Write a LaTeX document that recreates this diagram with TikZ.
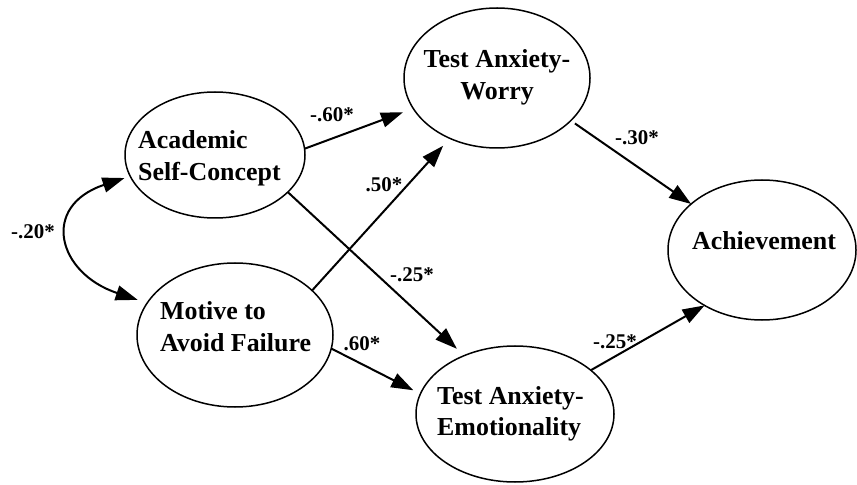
\documentclass[tikz,border=0pt]{standalone}
\usepackage{fontspec}
\setmainfont{Liberation Serif}
\usetikzlibrary{shapes.geometric,arrows.meta}
\tikzset{
  ell/.style={draw, ellipse, line width=1.5bp, inner sep=0pt, outer sep=0pt},
  txt/.style={font=\bfseries\fontsize{26}{32}\selectfont, inner sep=0pt},
  coef/.style={font=\bfseries\fontsize{21}{25}\selectfont, inner sep=0pt},
  arr/.style={line width=2bp, -{Triangle[length=22bp,width=15bp]}},
  darr/.style={line width=2bp, {Triangle[length=22bp,width=15bp]}-{Triangle[length=22bp,width=15bp]}}
}
\begin{document}
\begin{tikzpicture}[x=1bp,y=-1bp]
\useasboundingbox (0,0) rectangle (857,485);
% ellipses
\node[ell, minimum width=180bp, minimum height=126bp] (acad) at (215,155) {};
\node[ell, minimum width=196bp, minimum height=144bp] (motive) at (235,335) {};
\node[ell, minimum width=186bp, minimum height=140bp] (worry) at (497,78) {};
\node[ell, minimum width=198bp, minimum height=136bp] (emot) at (515,414) {};
\node[ell, minimum width=188bp, minimum height=140bp] (achieve) at (762,250) {};
% texts
\node[txt, anchor=base west] (tacad) at (138,149) {\begin{tabular}[t]{@{}l@{}}Academic\\Self-Concept\end{tabular}};
\node[txt, anchor=base west] (tmotive) at (160,320) {\begin{tabular}[t]{@{}l@{}}Motive to\\Avoid Failure\end{tabular}};
\node[txt, anchor=base] (tworry) at (497,68) {\begin{tabular}[t]{@{}c@{}}Test Anxiety-\\Worry\end{tabular}};
\node[txt, anchor=base west] (temot) at (437,404) {\begin{tabular}[t]{@{}l@{}}Test Anxiety-\\Emotionality\end{tabular}};
\node[txt, anchor=base] (tachieve) at (764,250) {Achievement};
% paths
\draw[arr, shorten >=11bp] (acad.4) -- (worry.200);
\draw[arr, shorten >=10bp] (motive.30) -- (worry.232);
\draw[arr, shorten >=10bp] (acad.333) -- (emot.131);
\draw[arr, shorten >=8bp] (motive.352) -- (emot.168);
\draw[arr, shorten <=5bp] (worry.330) -- (achieve.147);
\draw[arr] (emot.30) -- (achieve.224);
\draw[darr, shorten <=6bp, shorten >=10bp] (acad.194) .. controls +(-90,30) and +(-90,-30) .. (motive.160);
% coefficients
\node[coef] (c1) at (332,115) {-.60*};
\node[coef] (c2) at (384,185) {.50*};
\node[coef] (c3) at (412,275) {-.25*};
\node[coef] (c4) at (362,344) {.60*};
\node[coef] (c5) at (637,138) {-.30*};
\node[coef] (c6) at (615,342) {-.25*};
\node[coef] (c7) at (33,232) {-.20*};
\end{tikzpicture}
\end{document}
